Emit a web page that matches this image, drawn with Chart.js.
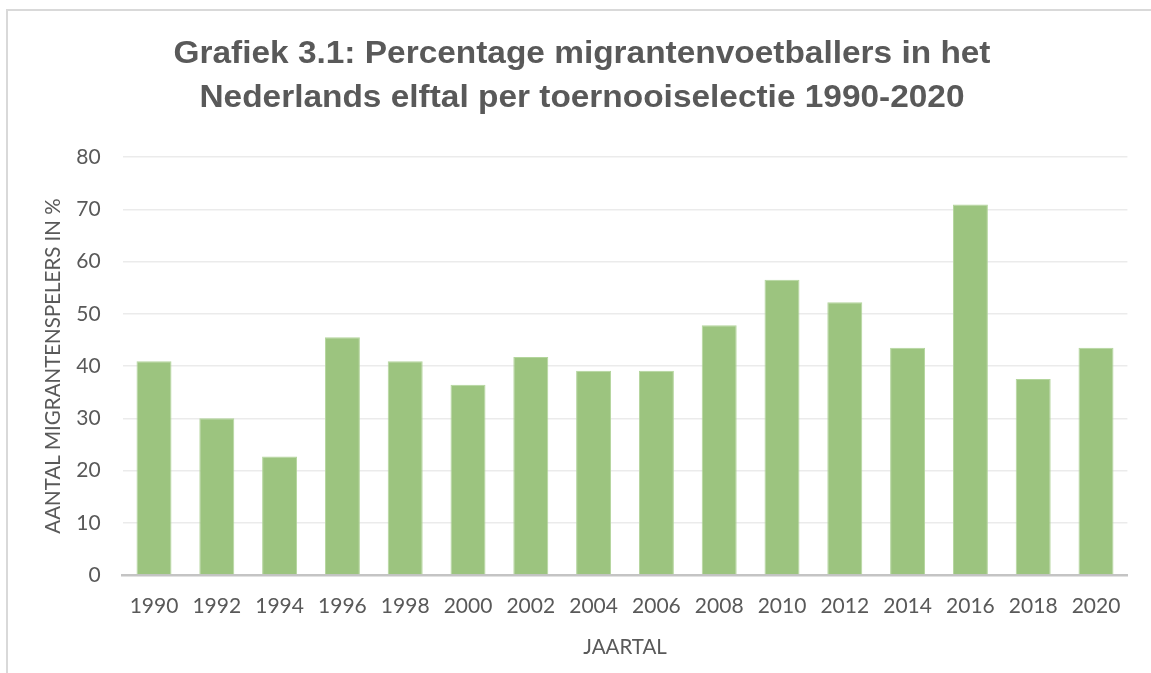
<!DOCTYPE html>
<html>
<head>
<meta charset="utf-8">
<script src="https://cdn.jsdelivr.net/npm/chart.js@4.4.0/dist/chart.umd.min.js"></script>
<style>
  html, body { margin: 0; padding: 0; background: #ffffff; }
  #wrap { position: relative; width: 1151px; height: 673px; overflow: hidden; }
  #frame { position: absolute; left: 6px; top: 9px; width: 1200px; height: 700px; border: 2px solid #d9d9d9; box-sizing: border-box; }
  #c { position: absolute; left: 0; top: 0; }
</style>
</head>
<body>
<div id="wrap">
  <div id="frame"></div>
  <canvas id="c" width="1151" height="673"></canvas>
</div>
<script>
const categories = ['1990','1992','1994','1996','1998','2000','2002','2004','2006','2008','2010','2012','2014','2016','2018','2020'];
const percentages = [40.9, 30.0, 22.7, 45.5, 40.9, 36.4, 41.7, 39.1, 39.1, 47.8, 56.5, 52.2, 43.5, 70.9, 37.5, 43.5];
const yTicks = [0, 10, 20, 30, 40, 50, 60, 70, 80];
const titleLines = ['Grafiek 3.1: Percentage migrantenvoetballers in het', 'Nederlands elftal per toernooiselectie 1990-2020'];
const yTitle = 'AANTAL MIGRANTENSPELERS IN %';
const xTitle = 'JAARTAL';

const textColor = '#595959';
const tickFont = { family: 'Lato, "Open Sans", sans-serif', size: 21 };
const axisTitleFont = { family: 'Lato, "Open Sans", sans-serif', size: 20.5 };

// Draws the two-line title in a condensed bold face (Arial Narrow look)
const narrowTitle = {
  id: 'narrowTitle',
  afterDraw(chart) {
    const ctx = chart.ctx;
    ctx.save();
    ctx.font = 'bold 31px "Liberation Sans", Arial, sans-serif';
    ctx.fillStyle = textColor;
    ctx.textAlign = 'center';
    ctx.textBaseline = 'alphabetic';
    const w = ctx.measureText(titleLines[0]).width;
    const sx = 817 / w;
    const cx = 582;
    const baselines = [62.7, 107.3];
    titleLines.forEach((line, i) => {
      ctx.save();
      ctx.translate(cx, baselines[i]);
      ctx.scale(sx, 1);
      ctx.fillText(line, 0, 0);
      ctx.restore();
    });
    ctx.restore();
  }
};

new Chart(document.getElementById('c'), {
  type: 'bar',
  data: {
    labels: categories,
    datasets: [{
      data: percentages,
      backgroundColor: '#9cc47f',
      borderColor: '#b3d59c',
      borderWidth: { left: 1, right: 1, top: 1, bottom: 0 },
      barPercentage: 0.557,
      categoryPercentage: 1.0
    }]
  },
  plugins: [narrowTitle],
  options: {
    responsive: false,
    animation: false,
    layout: { padding: { left: 41, right: 23.6, top: 157, bottom: 0 } },
    plugins: {
      legend: { display: false },
      tooltip: { enabled: false },
      title: { display: false }
    },
    scales: {
      x: {
        grid: { display: false, drawTicks: false },
        border: { display: true, color: '#c4c4c4', width: 2.5 },
        ticks: { color: textColor, font: tickFont, padding: 19, maxRotation: 0, autoSkip: false },
        title: { display: true, text: xTitle, color: textColor, font: axisTitleFont, padding: { top: 10, bottom: 13 } },
        afterFit: (s) => { s.height = 98; }
      },
      y: {
        min: 0,
        max: 80,
        afterBuildTicks: (s) => { s.ticks = yTicks.map(v => ({ value: v })); },
        grid: { color: '#ebebeb', lineWidth: 1.5, drawTicks: false },
        border: { display: false },
        ticks: { color: textColor, font: tickFont, padding: 22 },
        title: { display: true, text: yTitle, color: textColor, font: axisTitleFont, padding: { top: 0, bottom: 0 } },
        afterFit: (s) => { s.width = 81.6; }
      }
    }
  }
});
</script>
</body>
</html>
